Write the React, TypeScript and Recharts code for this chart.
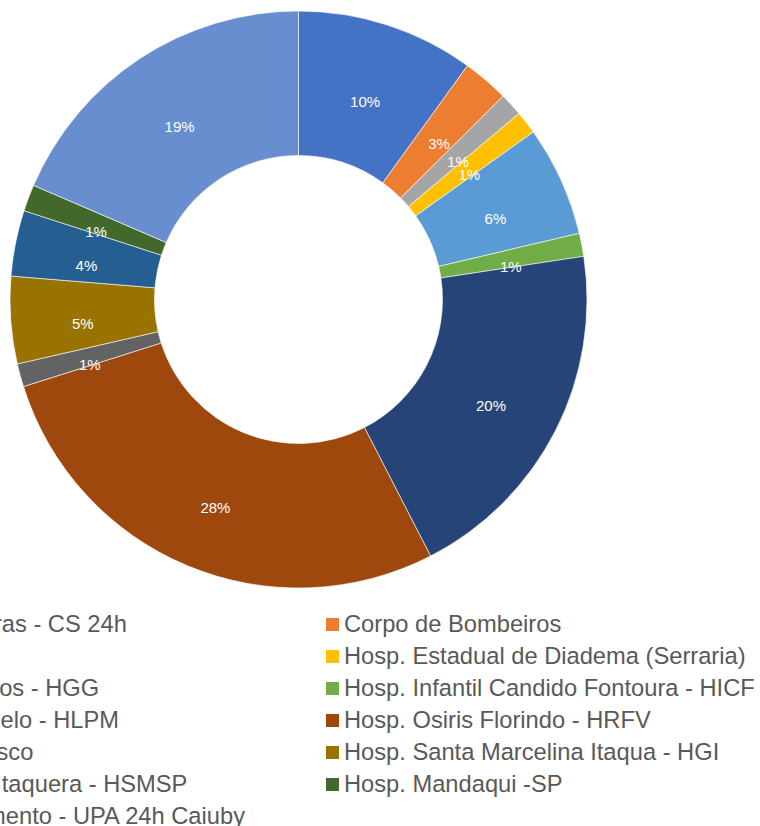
import { Legend, Pie, PieChart, Cell } from "recharts";

// categorias (ordem da legenda / sentido horário a partir do topo)
const names = [
  "Centro de Saúde Oliveiras - CS 24h",
  "Corpo de Bombeiros",
  "Outros",
  "Hosp. Estadual de Diadema (Serraria)",
  "Hosp. Geral de Guarulhos - HGG",
  "Hosp. Infantil Candido Fontoura - HICF",
  "Hosp. Luzia de Pinho Melo - HLPM",
  "Hosp. Osiris Florindo - HRFV",
  "Hosp. Geral São Francisco",
  "Hosp. Santa Marcelina Itaqua - HGI",
  "Hosp. Santa Marcelina Itaquera - HSMSP",
  "Hosp. Mandaqui -SP",
  "Unidade Pronto Atendimento - UPA 24h Caiuby",
];

// participação (%)
const shares = [10, 2.6, 1.3, 1.3, 6.2, 1.3, 19.9, 27.8, 1.3, 4.9, 3.7, 1.5, 18.6];

const colors = [
  "#4472C4", "#ED7D31", "#A5A5A5", "#FFC000", "#5B9BD5", "#70AD47",
  "#264478", "#9E480E", "#636363", "#997300", "#255E91", "#43682B", "#698ED0",
];

const data = names.map((name, i) => ({ name, value: shares[i] }));

const FONT = "'Liberation Sans', Arial, sans-serif";
const SHIFT = 300; // parte do gráfico que fica fora da área visível à esquerda
const RADIAN = Math.PI / 180;

const renderLabel = (props: any) => {
  const { cx, cy, midAngle, innerRadius, outerRadius, percent } = props;
  const r = (innerRadius + outerRadius) / 2;
  const x = cx + r * Math.cos(-midAngle * RADIAN);
  const y = cy + r * Math.sin(-midAngle * RADIAN) + 8;
  return (
    <text
      x={x}
      y={y}
      fill="#ffffff"
      fontSize={15}
      fontFamily={FONT}
      textAnchor="middle"
      dominantBaseline="central"
    >
      {`${Math.round(percent * 100)}%`}
    </text>
  );
};

// legenda em duas colunas, na mesma ordem dos dados (sem ordenação)
const LegendContent = () => (
  <div
    style={{
      display: "grid",
      gridTemplateColumns: "595px 595px",
      gridAutoRows: "32px",
      paddingLeft: 31,
    }}
  >
    {names.map((name, i) => (
      <div key={name} style={{ display: "flex", alignItems: "center", whiteSpace: "nowrap" }}>
        <span style={{ width: 13, height: 13, background: colors[i], marginRight: 5, flexShrink: 0 }} />
        <span style={{ fontFamily: FONT, fontSize: 23.7, color: "#595959", lineHeight: "32px" }}>
          {name}
        </span>
      </div>
    ))}
  </div>
);

export default function App() {
  return (
    <div
      style={{
        position: "absolute",
        left: 0,
        top: 0,
        width: 760,
        height: 826,
        overflow: "hidden",
        background: "#fff",
      }}
    >
      <div style={{ position: "absolute", left: -SHIFT, top: 0 }}>
        <PieChart width={1060} height={826} margin={{ top: 0, right: 0, bottom: 0, left: 0 }}>
          <Pie
            data={data}
            dataKey="value"
            nameKey="name"
            cx={298.5 + SHIFT}
            cy={299.5}
            innerRadius={144}
            outerRadius={288.5}
            startAngle={90}
            endAngle={-270}
            stroke="#ffffff"
            strokeWidth={0.6}
            label={renderLabel}
            labelLine={false}
            isAnimationActive={false}
          >
            {data.map((_, i) => (
              <Cell key={i} fill={colors[i]} />
            ))}
          </Pie>
          <Legend
            content={<LegendContent />}
            wrapperStyle={{ left: 0, top: 608, width: 1060 }}
          />
        </PieChart>
      </div>
    </div>
  );
}
